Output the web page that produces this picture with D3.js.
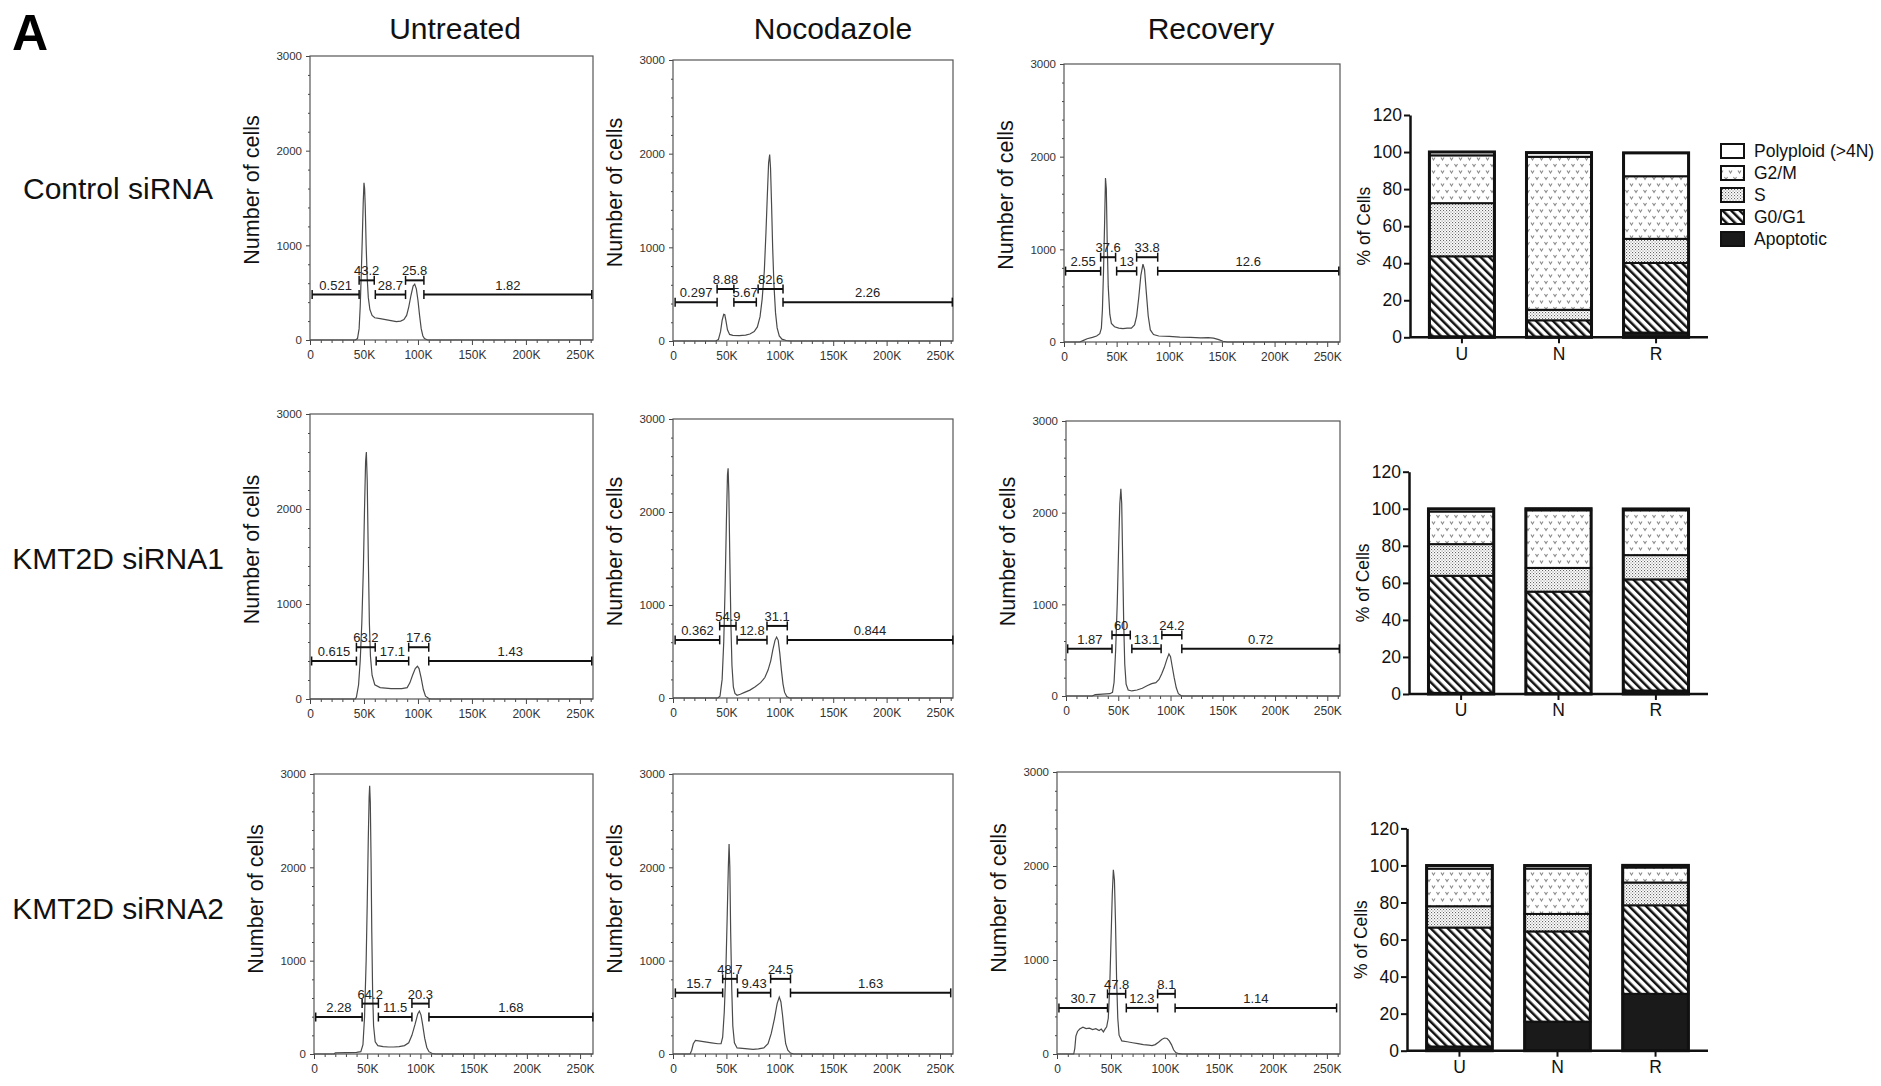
<!DOCTYPE html>
<html><head><meta charset="utf-8">
<script src="https://cdn.jsdelivr.net/npm/d3@7"></script>
<style>
body{margin:0;background:#fff;}
svg{display:block;font-family:"Liberation Sans",Arial,Helvetica,sans-serif;}
</style>
</head><body>
<svg id="chart" width="1881" height="1086"></svg>
<script>
// ---------------- DATA ----------------
const conditions = ["Untreated", "Nocodazole", "Recovery"];
const treatments = ["Control siRNA", "KMT2D siRNA1", "KMT2D siRNA2"];
const phases = ["Apoptotic", "G0/G1", "S", "G2/M", "Polyploid (>4N)"];
const legendOrder = ["Polyploid (>4N)", "G2/M", "S", "G0/G1", "Apoptotic"];
const barCategories = ["U", "N", "R"];
const countTicks = [0, 1000, 2000, 3000];
const dnaTicks = [0, 50, 100, 150, 200, 250];          // thousands
const dnaTickLabels = ["0", "50K", "100K", "150K", "200K", "250K"];
const percentTicks = [0, 20, 40, 60, 80, 100, 120];

// gate percentages (Apoptotic, G0/G1, S, G2/M, Polyploid) per condition U, N, R
const pctControl = [[0.521, 43.2, 28.7, 25.8, 1.82], [0.297, 8.88, 5.67, 82.6, 2.26], [2.55, 37.6, 13, 33.8, 12.6]];
const pctSi1 = [[0.615, 63.2, 17.1, 17.6, 1.43], [0.362, 54.9, 12.8, 31.1, 0.844], [1.87, 60, 13.1, 24.2, 0.72]];
const pctSi2 = [[2.28, 64.2, 11.5, 20.3, 1.68], [15.7, 48.7, 9.43, 24.5, 1.63], [30.7, 47.8, 12.3, 8.1, 1.14]];

// gate ranges (K) per histogram
const gatesControl = [
  [[2, 45.5], [45.5, 59.5], [60.5, 88.5], [88.5, 105.5], [105.5, 261]],
  [[2, 41.3], [41.3, 57], [57, 78], [79.7, 103], [103, 261.5]],
  [[1.5, 34.8], [34.8, 49], [50, 69], [69, 89], [89, 261]]];
const gatesSi1 = [
  [[1.5, 43], [43, 60.4], [61.3, 91.4], [91.4, 110], [110, 261]],
  [[2, 43.7], [43.7, 59], [60, 88], [88, 107], [107, 262]],
  [[1.6, 44], [44, 61.5], [63, 91], [91.7, 110.8], [110.8, 261.5]]];
const gatesSi2 = [
  [[1.6, 45.2], [45.2, 60.5], [60.5, 92], [92, 108], [108, 262]],
  [[2.2, 46.5], [46.5, 60], [60.5, 91.4], [91.4, 110], [110, 260]],
  [[1.8, 46.8], [46.8, 63.6], [64.2, 93.2], [93.2, 109.4], [109.4, 259]]];
// gate marker heights (cell counts): [low, high]
const gateLevelsControl = [[480, 630], [415, 555], [765, 915]];
const gateLevelsSi1 = [[400, 545], [625, 775], [515, 665]];
const gateLevelsSi2 = [[396, 540], [655, 805], [490, 640]];

// histograms: [DNA content (K), number of cells]
const histCtrlU = [[0,0],[42,0],[44,15],[45.5,120],[46.5,350],[47.5,700],[48.5,1100],[49.3,1450],[50,1660],[50.6,1600],[51.2,1400],[52,1000],[53,650],[54,450],[55.5,320],[57.5,260],[60,235],[65,225],[70,215],[75,205],[80,195],[84,200],[87,215],[89.5,260],[91.5,350],[93.5,470],[95.5,570],[97,590],[98.5,540],[100,420],[101.5,260],[103,120],[104.5,45],[106,15],[109,0],[262,0]];
const histCtrlN = [[0,0],[40,0],[42.5,15],[44.5,100],[46,220],[47.5,285],[48.5,280],[49.5,220],[51,120],[53,70],[56,60],[62,58],[68,62],[72,75],[76,100],[79,150],[81.5,260],[83.5,450],[85.5,750],[87,1150],[88.3,1550],[89.5,1900],[90.5,1990],[91.3,1850],[92.3,1450],[93.3,1000],[94.5,600],[96,300],[97.5,140],[99.5,55],[102,20],[106,5],[110,0],[262,0]];
const histCtrlR = [[0,0],[15,0],[18,15],[22,35],[27,50],[31,65],[34,90],[35.5,150],[36.5,350],[37.5,750],[38.5,1250],[39.4,1770],[40.2,1650],[41,1100],[42,600],[43.5,300],[45,200],[48,165],[52,150],[56,145],[60,150],[64,150],[67,185],[69,280],[71,480],[73,720],[75,840],[76.5,780],[78,560],[80,280],[82,130],[85,80],[90,65],[100,60],[110,52],[120,50],[130,45],[137,48],[142,42],[147,25],[151,8],[155,0],[262,0]];
const histSi1U = [[0,0],[42,0],[43,20],[45,150],[46.5,400],[48,800],[49.5,1400],[50.5,2000],[51.5,2500],[52.2,2600],[53,2300],[54,1500],[55,800],[56,450],[57.5,250],[60,150],[65,120],[75,110],[85,110],[90,120],[92.5,170],[95,250],[97.5,320],[99.5,345],[101,320],[103,220],[105,100],[107,30],[110,5],[112,0],[262,0]];
const histSi1N = [[0,0],[42,0],[44,20],[46,200],[47.5,600],[48.8,1200],[50,1900],[51,2400],[51.6,2470],[52.3,2200],[53.2,1500],[54.2,800],[55.2,350],[56.5,120],[58,50],[60,30],[63,40],[67,60],[72,85],[77,120],[82,165],[86,220],[89,300],[91.5,400],[93.5,520],[95.5,620],[97,655],[98.5,620],[100,480],[101.5,300],[103,150],[104.5,60],[106.5,15],[109,0],[262,0]];
const histSi1R = [[0,0],[25,0],[28,15],[35,20],[42,25],[44.5,40],[46,150],[47.5,500],[49,1000],[50.3,1600],[51.5,2100],[52.5,2260],[53.3,2100],[54.2,1500],[55.2,800],[56.2,350],[57.5,130],[59.5,65],[63,55],[68,65],[73,85],[78,115],[82,135],[86,145],[89,180],[91.5,240],[94,310],[96.5,400],[98.5,460],[100,430],[101.5,330],[103.5,200],[105.5,90],[107.5,25],[110,5],[112,0],[262,0]];
const histSi2U = [[0,0],[19,0],[20,12],[30,14],[40,18],[44,25],[46,100],[47.5,400],[49,1000],[50,1600],[51,2300],[51.8,2750],[52.3,2875],[52.9,2700],[53.6,2100],[54.3,1300],[55.1,650],[56,300],[57.5,130],[60,90],[65,80],[70,75],[75,75],[80,80],[85,90],[89,120],[92,200],[95,320],[97.5,430],[99,460],[100.5,420],[102,320],[104,170],[106,70],[108,25],[111,5],[114,0],[262,0]];
const histSi2N = [[0,0],[16,0],[17.5,40],[19,110],[21,145],[24,140],[30,130],[36,120],[42,110],[45,110],[46.5,180],[48,450],[49.5,900],[50.8,1500],[51.8,2000],[52.5,2250],[53.2,2000],[54,1300],[55,700],[56,300],[57.5,120],[60,65],[65,60],[70,55],[75,50],[80,55],[85,65],[89,110],[92,220],[95,380],[97.5,540],[99.5,610],[101,560],[102.5,420],[104,250],[105.5,110],[107.5,40],[110,10],[113,0],[262,0]];
const histSi2R = [[0,0],[15.5,0],[16.5,60],[17.5,190],[19,240],[21,265],[24,285],[27,270],[30,275],[33,260],[36,270],[39,250],[41,265],[43,235],[44.5,265],[46,290],[47.5,380],[48.8,700],[50,1200],[51.2,1700],[52.2,1960],[53.2,1850],[54.2,1400],[55.2,800],[56.3,380],[57.5,200],[60,140],[65,130],[70,120],[75,110],[80,100],[85,95],[88,90],[91,100],[94,125],[97,155],[99.5,170],[102,165],[104,140],[106,100],[108,45],[110,15],[113,3],[116,0],[262,0]];

// ---------------- LAYOUT ----------------
const pctRows = [pctControl, pctSi1, pctSi2];
const gateRows = [gatesControl, gatesSi1, gatesSi2];
const levelRows = [gateLevelsControl, gateLevelsSi1, gateLevelsSi2];
const histRows = [[histCtrlU, histCtrlN, histCtrlR], [histSi1U, histSi1N, histSi1R], [histSi2U, histSi2N, histSi2R]];

const frames = [
  [[310, 56, 593, 340], [673, 60, 953, 341], [1064, 64, 1340, 342]],
  [[310, 414, 593, 699], [673, 419, 953, 698], [1066, 421, 1340, 696]],
  [[314, 774, 593, 1054], [673, 774, 953, 1054], [1057, 772, 1340, 1054]]];
const yTitleShift = [-8, -7, -15];
const barAxisX = [1410, 1409, 1407];
const barY0 = [337.3, 694, 1050.7];
const barRight = 1708;

const svg = d3.select("#chart");
const defs = svg.append("defs");

// patterns
const pG2 = defs.append("pattern").attr("id", "pG2M").attr("patternUnits", "userSpaceOnUse")
  .attr("width", 9).attr("height", 13);
pG2.append("rect").attr("width", 9).attr("height", 13).attr("fill", "#fff");
pG2.append("path").attr("d", "M1,1.5 L2.5,4 L4,1.5").attr("stroke", "#8a8a8a").attr("stroke-width", 1.1).attr("fill", "none");
pG2.append("path").attr("d", "M5.5,8 L7,10.5 L8.5,8").attr("stroke", "#8a8a8a").attr("stroke-width", 1.1).attr("fill", "none");

const pS = defs.append("pattern").attr("id", "pS").attr("patternUnits", "userSpaceOnUse")
  .attr("width", 3).attr("height", 3);
pS.append("rect").attr("width", 3).attr("height", 3).attr("fill", "#fff");
pS.append("rect").attr("x", 0).attr("y", 0).attr("width", 1.1).attr("height", 1.1).attr("fill", "#666");
pS.append("rect").attr("x", 1.5).attr("y", 1.5).attr("width", 1.1).attr("height", 1.1).attr("fill", "#888");

const pG1 = defs.append("pattern").attr("id", "pG1").attr("patternUnits", "userSpaceOnUse")
  .attr("width", 6).attr("height", 6).attr("patternTransform", "rotate(-45)");
pG1.append("rect").attr("width", 6).attr("height", 6).attr("fill", "#fff");
pG1.append("rect").attr("width", 2.5).attr("height", 6).attr("fill", "#111");

const phaseFill = {
  "Apoptotic": "#1a1a1a",
  "G0/G1": "url(#pG1)",
  "S": "url(#pS)",
  "G2/M": "url(#pG2M)",
  "Polyploid (>4N)": "#fff"
};

// ---------------- TITLES ----------------
svg.append("text").attr("x", 12).attr("y", 50).attr("font-size", 50).attr("font-weight", "bold").text("A");
const titleX = [455, 833, 1211];
conditions.forEach((c, i) => {
  svg.append("text").attr("x", titleX[i]).attr("y", 39).attr("text-anchor", "middle")
    .attr("font-size", 30).attr("fill", "#111").text(c);
});
const rowLabelY = [199, 569, 919];
treatments.forEach((t, i) => {
  svg.append("text").attr("x", 118).attr("y", rowLabelY[i]).attr("text-anchor", "middle")
    .attr("font-size", 30).attr("fill", "#111").text(t);
});

// ---------------- HISTOGRAMS ----------------
function drawHist(frame, pts, gates, pcts, levels, tShift) {
  const [x0, y0, x1, y1] = frame;
  const g = svg.append("g");
  const x = d3.scaleLinear().domain([0, 262.144]).range([x0, x1]);
  const y = d3.scaleLinear().domain([0, 3000]).range([y1, y0]);

  // minor ticks
  const minorX = d3.range(10, 261, 10).filter(v => v % 50 !== 0);
  const minorY = d3.range(200, 3000, 200).filter(v => v % 1000 !== 0);
  g.append("g").attr("transform", `translate(0,${y1})`)
    .call(d3.axisBottom(x).tickValues(minorX).tickSize(3).tickFormat(""))
    .call(s => s.select(".domain").remove())
    .call(s => s.selectAll("line").attr("stroke", "#444"));
  g.append("g").attr("transform", `translate(${x0},0)`)
    .call(d3.axisLeft(y).tickValues(minorY).tickSize(2).tickFormat(""))
    .call(s => s.select(".domain").remove())
    .call(s => s.selectAll("line").attr("stroke", "#444"));
  // major
  g.append("g").attr("transform", `translate(0,${y1})`)
    .call(d3.axisBottom(x).tickValues(dnaTicks).tickSize(5).tickPadding(5)
      .tickFormat((d, i) => dnaTickLabels[i]))
    .call(s => s.select(".domain").remove())
    .call(s => s.selectAll("line").attr("stroke", "#444"))
    .call(s => s.selectAll("text").attr("font-size", 12).attr("fill", "#333")
      .attr("font-family", "'Liberation Sans',Arial,sans-serif"));
  g.append("g").attr("transform", `translate(${x0},0)`)
    .call(d3.axisLeft(y).tickValues(countTicks).tickSize(4).tickPadding(4).tickFormat(d3.format("d")))
    .call(s => s.select(".domain").remove())
    .call(s => s.selectAll("line").attr("stroke", "#444"))
    .call(s => s.selectAll("text").attr("font-size", 11.5).attr("fill", "#333")
      .attr("font-family", "'Liberation Sans',Arial,sans-serif"));

  g.append("rect").attr("x", x0).attr("y", y0).attr("width", x1 - x0).attr("height", y1 - y0)
    .attr("fill", "none").attr("stroke", "#555").attr("stroke-width", 1.2);

  // curve
  const line = d3.line().x(d => x(d[0])).y(d => y(d[1]));
  g.append("path").datum(pts).attr("d", line).attr("fill", "none")
    .attr("stroke", "#4a4a4a").attr("stroke-width", 1.2);

  // gates
  gates.forEach((gr, i) => {
    const lv = i % 2 === 1 ? levels[1] : levels[0];
    const yy = y(lv);
    const xa = x(gr[0]), xb = x(gr[1]);
    g.append("line").attr("x1", xa).attr("x2", xb).attr("y1", yy).attr("y2", yy)
      .attr("stroke", "#111").attr("stroke-width", 2);
    [xa, xb].forEach(xx => g.append("line").attr("x1", xx).attr("x2", xx)
      .attr("y1", yy - 4.5).attr("y2", yy + 4.5).attr("stroke", "#111").attr("stroke-width", 1.5));
    g.append("text").attr("x", (xa + xb) / 2).attr("y", yy - 5).attr("text-anchor", "middle")
      .attr("font-size", 13).attr("fill", "#222").text(pcts[i]);
  });

  // y title
  g.append("text").attr("transform", `translate(${x0 - 58},${(y0 + y1) / 2 + tShift}) rotate(-90)`)
    .attr("text-anchor", "middle").attr("dominant-baseline", "central")
    .attr("font-size", 21.5).attr("fill", "#111").text("Number of cells");
}

for (let r = 0; r < 3; r++) {
  for (let c = 0; c < 3; c++) {
    drawHist(frames[r][c], histRows[r][c], gateRows[r][c], pctRows[r][c], levelRows[r][c], yTitleShift[r]);
  }
}

// ---------------- STACKED BARS ----------------
function drawBars(r) {
  const g = svg.append("g");
  const ax = barAxisX[r], y0 = barY0[r];
  const x = d3.scaleBand().domain(barCategories).range([ax, barRight]).paddingInner(0.33).paddingOuter(0.2);
  const y = d3.scaleLinear().domain([0, 120]).range([y0, y0 - 222.3]);
  const rows = barCategories.map((cat, i) => {
    const o = { cat };
    phases.forEach((p, j) => o[p] = pctRows[r][i][j]);
    return o;
  });
  const series = d3.stack().keys(phases)(rows);
  series.forEach(s => {
    g.append("g").selectAll("rect").data(s).join("rect")
      .attr("x", d => x(d.data.cat)).attr("width", x.bandwidth())
      .attr("y", d => y(d[1])).attr("height", d => y(d[0]) - y(d[1]))
      .attr("fill", phaseFill[s.key]).attr("stroke", "#111").attr("stroke-width", 2);
  });
  // outline
  g.selectAll(".outline").data(rows).join("rect")
    .attr("x", d => x(d.cat)).attr("width", x.bandwidth())
    .attr("y", d => y(d3.sum(phases, p => d[p]))).attr("height", d => y0 - y(d3.sum(phases, p => d[p])))
    .attr("fill", "none").attr("stroke", "#111").attr("stroke-width", 3);

  // y axis
  g.append("g").attr("transform", `translate(${ax},0)`)
    .call(d3.axisLeft(y).tickValues(percentTicks).tickSize(6).tickSizeOuter(0).tickPadding(2))
    .call(s => s.select(".domain").attr("stroke", "#111").attr("stroke-width", 2.5))
    .call(s => s.selectAll("line").attr("stroke", "#111").attr("stroke-width", 2))
    .call(s => s.selectAll("text").attr("font-size", 17.5).attr("fill", "#111")
      .attr("font-family", "'Liberation Sans',Arial,sans-serif"));
  // x axis
  g.append("line").attr("x1", ax).attr("x2", barRight).attr("y1", y0).attr("y2", y0)
    .attr("stroke", "#111").attr("stroke-width", 2.5);
  g.append("g").attr("transform", `translate(0,${y0})`)
    .call(d3.axisBottom(x).tickSize(6).tickSizeOuter(0).tickPadding(4))
    .call(s => s.select(".domain").remove())
    .call(s => s.selectAll("line").attr("stroke", "#111").attr("stroke-width", 2))
    .call(s => s.selectAll("text").attr("font-size", 17.5).attr("fill", "#111")
      .attr("font-family", "'Liberation Sans',Arial,sans-serif"));
  // y title
  g.append("text").attr("transform", `translate(${ax - 46},${y(60)}) rotate(-90)`)
    .attr("text-anchor", "middle").attr("dominant-baseline", "central")
    .attr("font-size", 17.5).attr("fill", "#111").text("% of Cells");
}
for (let r = 0; r < 3; r++) drawBars(r);

// legend
const lg = svg.append("g");
legendOrder.forEach((p, i) => {
  const cy = 151 + i * 22;
  lg.append("rect").attr("x", 1721).attr("y", cy - 7).attr("width", 23).attr("height", 14)
    .attr("fill", phaseFill[p]).attr("stroke", "#111").attr("stroke-width", 2);
  lg.append("text").attr("x", 1754).attr("y", cy).attr("dominant-baseline", "central")
    .attr("font-size", 17.5).attr("fill", "#111").text(p);
});
</script>
</body></html>
